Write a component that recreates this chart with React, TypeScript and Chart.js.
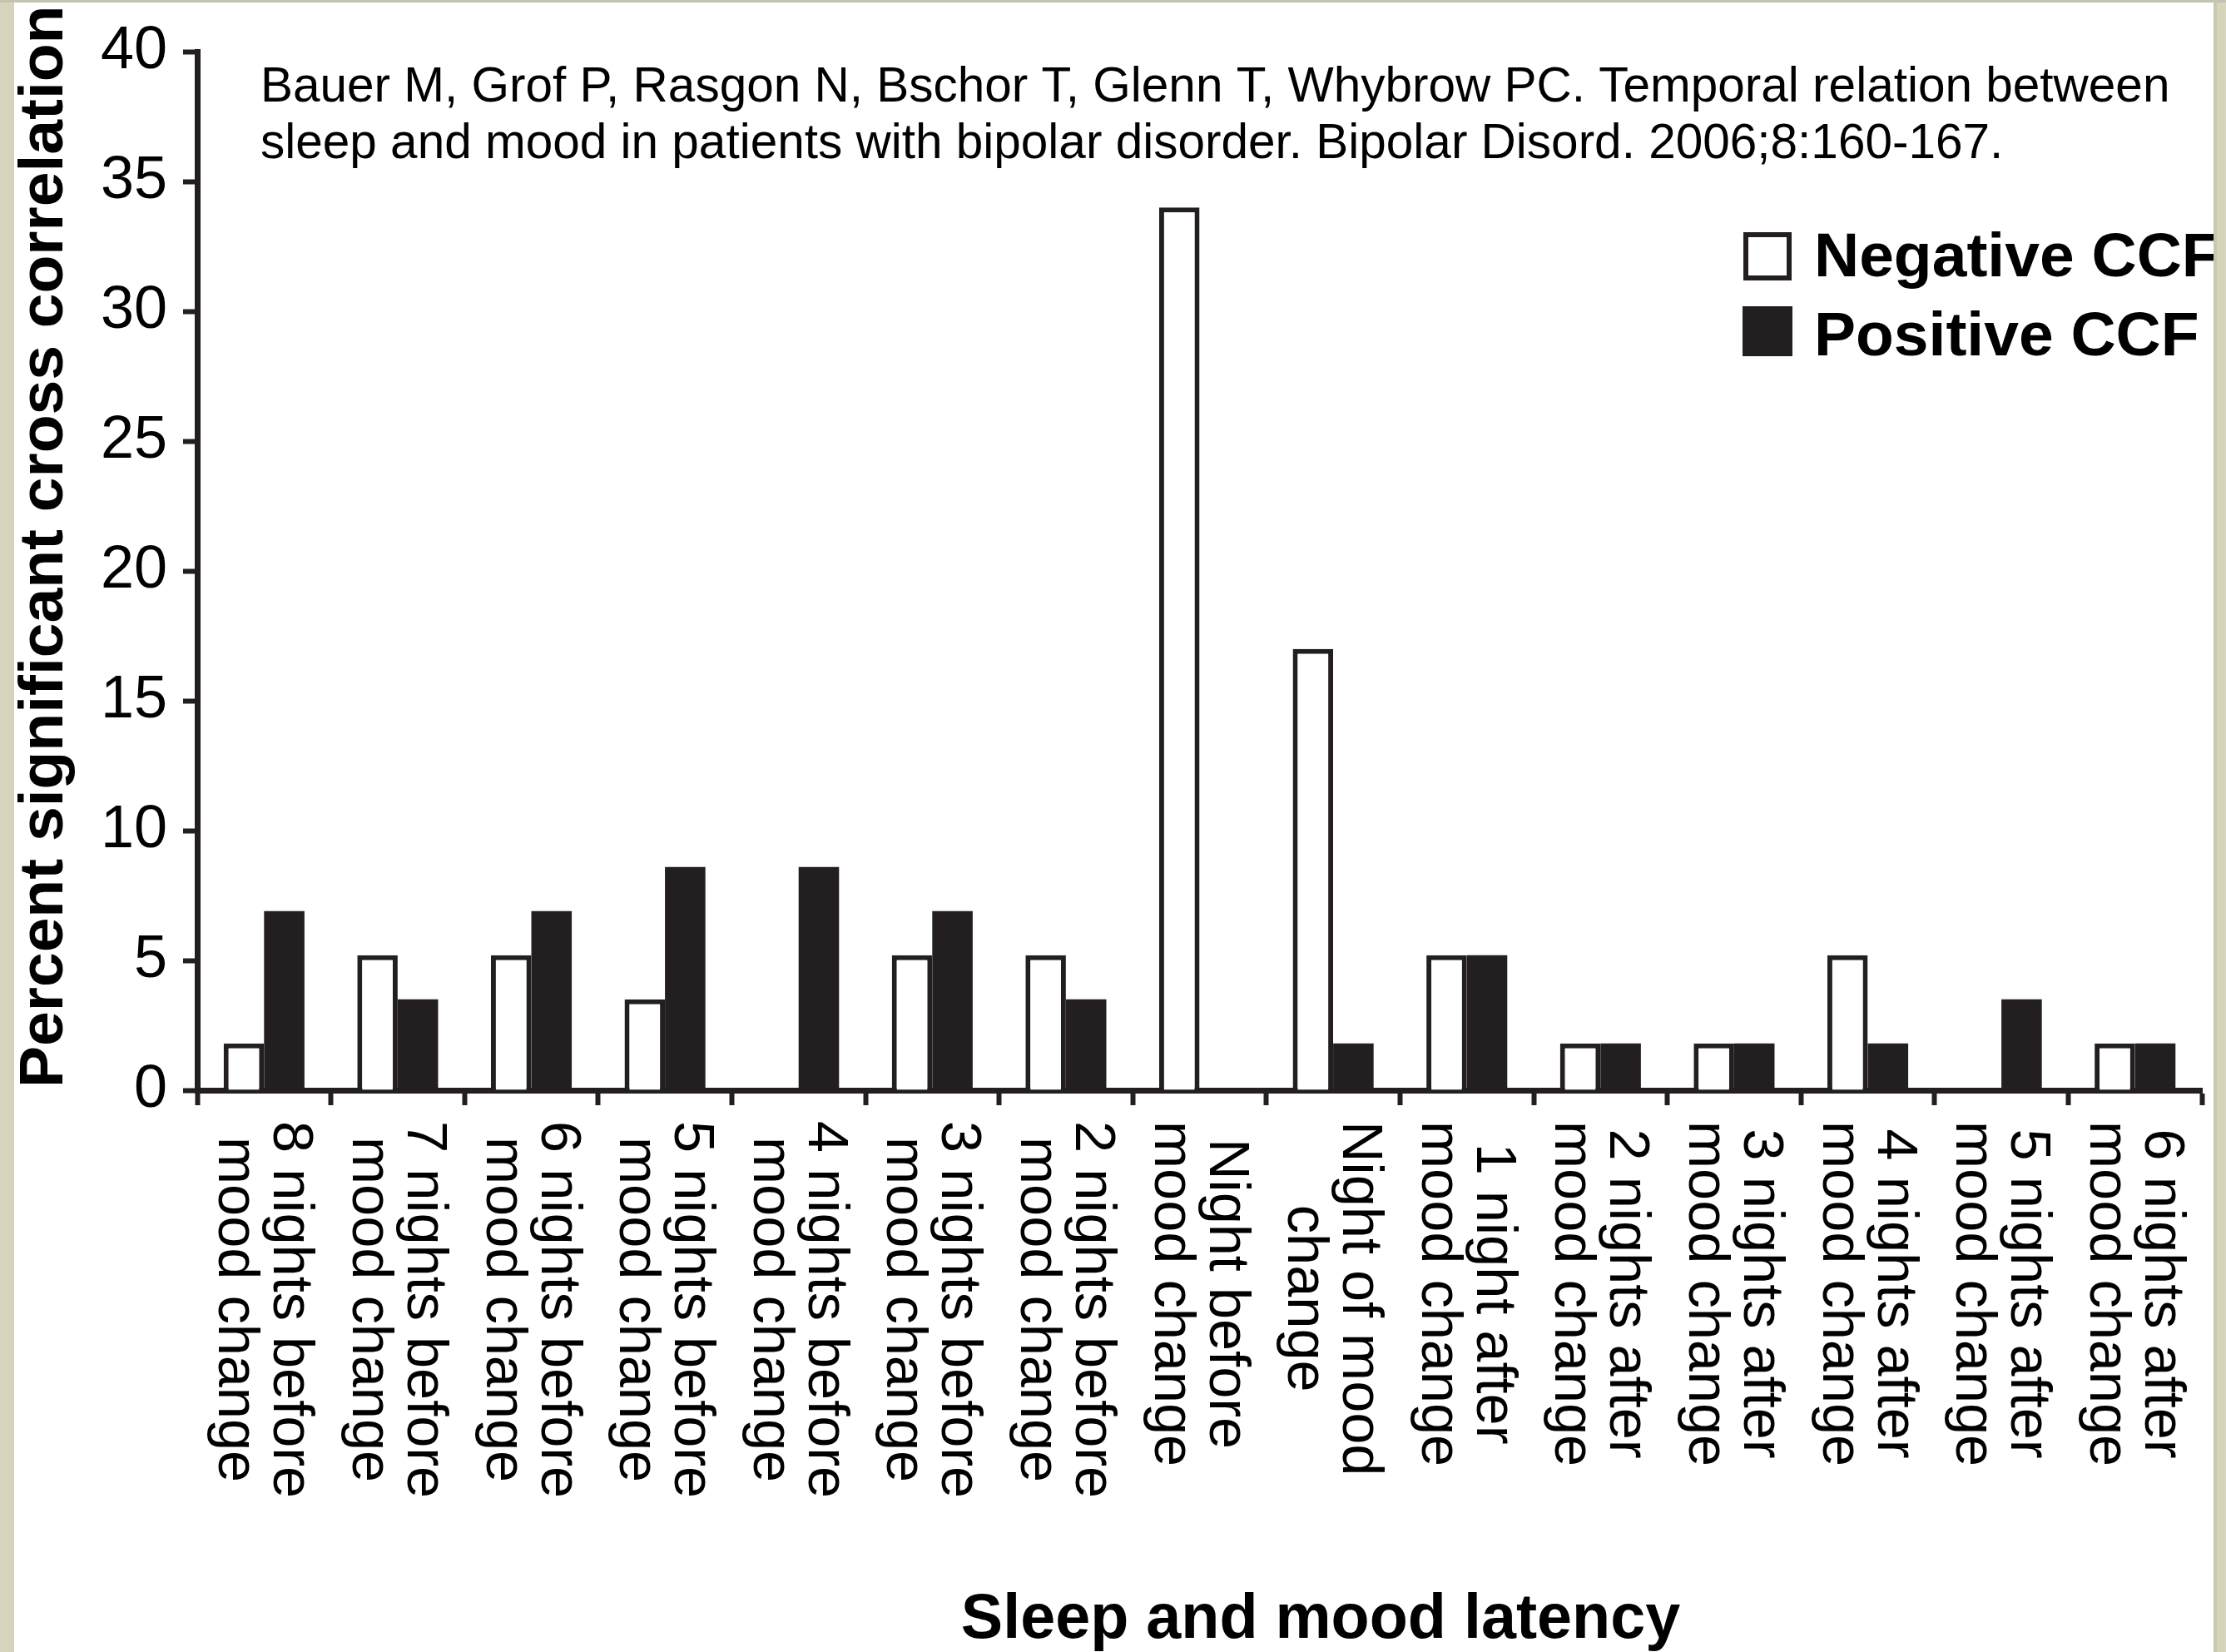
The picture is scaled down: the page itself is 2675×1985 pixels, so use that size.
import React, { useEffect, useRef } from "react";
import { Chart, registerables } from "chart.js";

Chart.register(...registerables);

// ---- data ----
const categories: string[][] = [
  ["8 nights before", "mood change"],
  ["7 nights before", "mood change"],
  ["6 nights before", "mood change"],
  ["5 nights before", "mood change"],
  ["4 nights before", "mood change"],
  ["3 nights before", "mood change"],
  ["2 nights before", "mood change"],
  ["Night before", "mood change"],
  ["Night of mood", "change"],
  ["1 night after", "mood change"],
  ["2 nights after", "mood change"],
  ["3 nights after", "mood change"],
  ["4 nights after", "mood change"],
  ["5 nights after", "mood change"],
  ["6 nights after", "mood change"],
];
const negativeCCF = [1.8, 5.2, 5.2, 3.5, 0, 5.2, 5.2, 34, 17, 5.2, 1.8, 1.8, 5.2, 0, 1.8];
const positiveCCF = [6.9, 3.5, 6.9, 8.6, 8.6, 6.9, 3.5, 0, 1.8, 5.2, 1.8, 1.8, 1.8, 3.5, 1.8];
const seriesLabels = ["Negative CCF", "Positive CCF"];
const yMin = 0;
const yMax = 40;
const yStep = 5;
const citationLines = [
  "Bauer M, Grof P, Rasgon N, Bschor T, Glenn T, Whybrow PC. Temporal relation between",
  "sleep and mood in patients with bipolar disorder. Bipolar Disord. 2006;8:160-167.",
];
const xTitle = "Sleep and mood latency";
const yTitle = "Percent significant cross correlation";

const INK = "#231f20";
const FONT = '"Liberation Sans", Arial, Helvetica, sans-serif';
const W = 2675;
const H = 1985;

export default function App() {
  const ref = useRef<HTMLCanvasElement>(null);

  useEffect(() => {
    const canvas = ref.current;
    if (!canvas) return;

    const decor = {
      id: "decor",
      beforeDraw(chart: any) {
        const { ctx, width, height } = chart;
        ctx.save();
        ctx.fillStyle = "#ffffff";
        ctx.fillRect(0, 0, width, height);
        ctx.restore();
      },
      afterDraw(chart: any) {
        const { ctx, width, height, chartArea } = chart;
        const xs = chart.scales.x;
        ctx.save();
        ctx.fillStyle = "#000";
        ctx.textBaseline = "alphabetic";

        // citation
        ctx.font = `58.5px ${FONT}`;
        ctx.textAlign = "left";
        citationLines.forEach((l, i) => ctx.fillText(l, 313, 122 + i * 68));

        // x category labels, rotated clockwise
        ctx.font = `68.5px ${FONT}`;
        categories.forEach((lines, i) => {
          const cx = xs.getPixelForValue(i);
          const maxW = Math.max(...lines.map((l) => ctx.measureText(l).width));
          ctx.save();
          ctx.translate(cx, chartArea.bottom + 37 + maxW / 2);
          ctx.rotate(Math.PI / 2);
          ctx.textAlign = "center";
          lines.forEach((l, j) => ctx.fillText(l, 0, -12 + j * 66));
          ctx.restore();
        });

        // y title
        ctx.font = `bold 75px ${FONT}`;
        ctx.save();
        ctx.translate(75, 1307);
        ctx.rotate(-Math.PI / 2);
        ctx.textAlign = "left";
        ctx.fillText(yTitle, 0, 0);
        ctx.restore();

        // x title
        ctx.font = `bold 75.5px ${FONT}`;
        ctx.textAlign = "center";
        ctx.fillText(xTitle, 1587, 1968);

        // legend
        const ds = chart.data.datasets;
        ctx.fillStyle = INK;
        ctx.fillRect(2095, 279, 58, 58);
        ctx.fillStyle = ds[0].backgroundColor;
        ctx.fillRect(2101, 285, 46, 46);
        ctx.fillStyle = ds[1].backgroundColor;
        ctx.fillRect(2094, 368, 60, 60);
        ctx.fillStyle = "#000";
        ctx.font = `bold 75px ${FONT}`;
        ctx.textAlign = "left";
        ctx.fillText(ds[0].label, 2180, 332);
        ctx.fillText(ds[1].label, 2180, 427);

        // page border strips
        ctx.fillStyle = "#d6d4bb";
        ctx.fillRect(0, 0, 17, height);
        ctx.fillRect(2660, 0, width - 2660, height);
        ctx.fillStyle = "#c4c3b0";
        ctx.fillRect(0, 0, width, 3);
        ctx.fillStyle = "#c9c7ae";
        ctx.fillRect(2660, 0, 4, height);
        ctx.restore();
      },
    };

    const chart = new Chart(canvas, {
      type: "bar",
      data: {
        labels: categories,
        datasets: [
          {
            label: seriesLabels[0],
            data: negativeCCF,
            backgroundColor: "#ffffff",
            borderColor: INK,
            borderWidth: 6,
            borderSkipped: "start",
            categoryPercentage: 0.605,
            barPercentage: 1,
          },
          {
            label: seriesLabels[1],
            data: positiveCCF,
            backgroundColor: INK,
            borderWidth: 0,
            categoryPercentage: 0.605,
            barPercentage: 1,
          },
        ],
      },
      options: {
        responsive: false,
        animation: false,
        devicePixelRatio: 1,
        layout: { padding: { top: 58, right: 29, left: 0, bottom: 0 } },
        plugins: {
          legend: { display: false },
          tooltip: { enabled: false },
          title: { display: false },
        },
        scales: {
          x: {
            grid: {
              offset: true,
              drawOnChartArea: false,
              drawTicks: true,
              tickLength: 18,
              tickWidth: 6,
              tickColor: INK,
              color: INK,
            },
            border: { display: true, color: INK, width: 7 },
            ticks: { display: false },
            afterFit: (s: any) => {
              s.height = H - 1310;
            },
          },
          y: {
            min: yMin,
            max: yMax,
            ticks: {
              stepSize: yStep,
              font: { size: 72, family: FONT },
              color: "#000",
              padding: 19,
            },
            grid: {
              drawOnChartArea: false,
              drawTicks: true,
              tickLength: 17,
              tickWidth: 6,
              tickColor: INK,
              color: INK,
            },
            border: { display: true, color: INK, width: 7 },
            afterFit: (s: any) => {
              s.width = 237;
            },
          },
        },
      },
      plugins: [decor],
    } as any);

    return () => chart.destroy();
  }, []);

  return (
    <div style={{ position: "absolute", left: 0, top: 0, width: W, height: H }}>
      <canvas ref={ref} width={W} height={H} style={{ display: "block", width: W, height: H }} />
    </div>
  );
}
